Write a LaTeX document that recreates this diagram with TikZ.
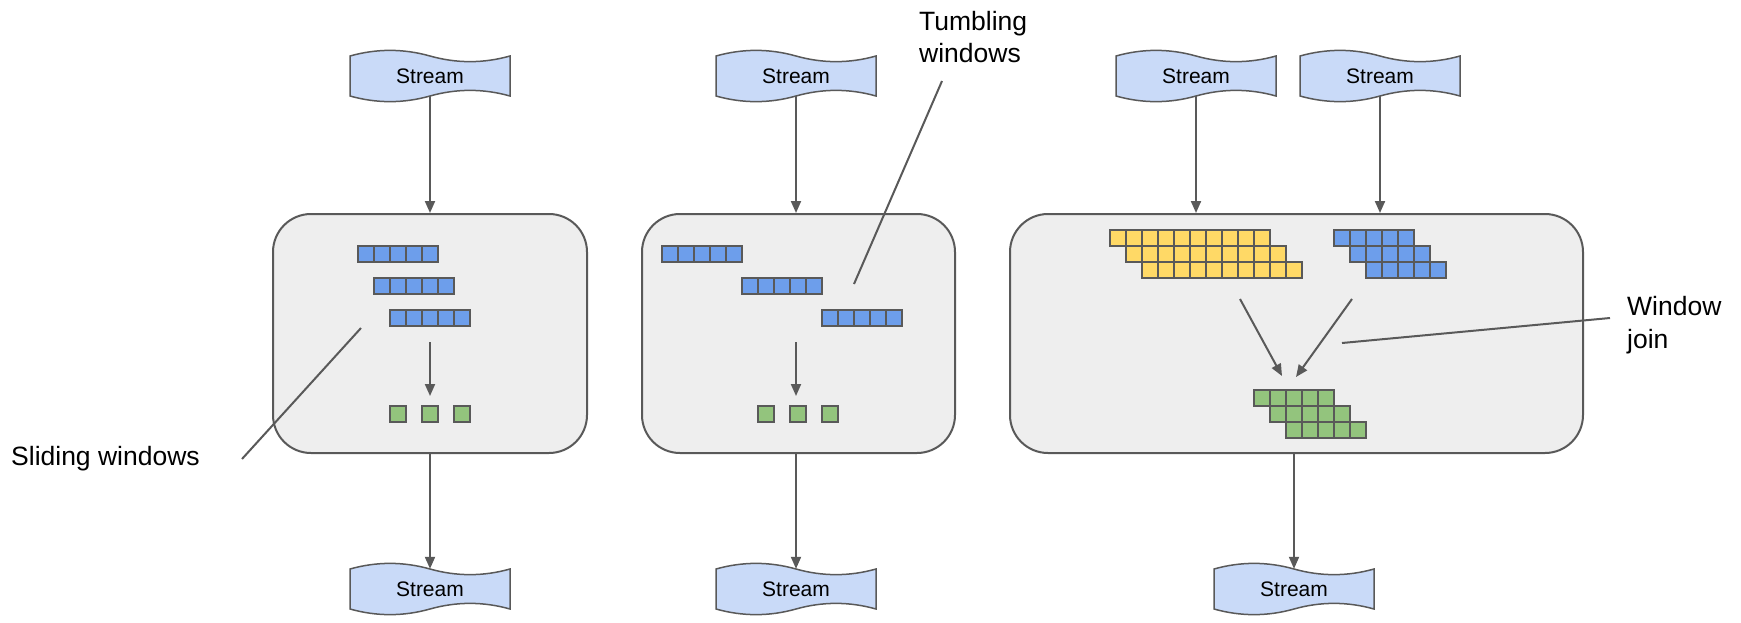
\documentclass[tikz,border=0pt]{standalone}
\usepackage{fontspec}
\setmainfont{Liberation Sans}
\usetikzlibrary{arrows.meta}
\definecolor{edgecol}{HTML}{595959}
\definecolor{boxfill}{HTML}{EEEEEE}
\definecolor{tapefill}{HTML}{C9DAF8}
\definecolor{cblue}{HTML}{6D9EEB}
\definecolor{cyellow}{HTML}{FFD966}
\definecolor{cgreen}{HTML}{93C47D}
\newcommand\tapeat[3]{%
  \begin{scope}[shift={(#2,#3)}]
    \filldraw[tape] (-80,-20) .. controls (-53.3,-27.5) and (-26.7,-27.5) .. (0,-20)
      .. controls (26.7,-12.5) and (53.3,-12.5) .. (80,-20) -- (80,20)
      .. controls (53.3,12.5) and (26.7,12.5) .. (0,20)
      .. controls (-26.7,27.5) and (-53.3,27.5) .. (-80,20) -- cycle;
  \end{scope}
  \node[tapetext] (#1) at (#2,#3) {Stream};}
\newcommand\cellrow[4]{%
  \foreach \k in {1,...,#3} {\filldraw[cellbox, fill=#4] ({#1+(\k-1)*16},#2) rectangle ++(16,16);}}
\begin{document}
\begin{tikzpicture}[x=1pt,y=-1pt,
  tape/.style={draw=edgecol, fill=tapefill, line width=1.5pt},
  tapetext/.style={minimum width=160pt, minimum height=40pt, inner sep=0pt, font=\fontsize{21}{25}\selectfont},
  opbox/.style={draw=edgecol, fill=boxfill, line width=2pt, rounded corners=38pt, inner sep=0pt},
  cellbox/.style={draw=edgecol, line width=2.1pt},
  arr/.style={draw=edgecol, line width=2pt, -{Triangle[length=12pt,width=10pt]}},
  leader/.style={draw=edgecol, line width=2pt},
  lbl/.style={font=\fontsize{26.5}{32.5}\selectfont, align=left, inner sep=0pt, anchor=west}]
\useasboundingbox (0,0) rectangle (1741,622);

% operator boxes
\node[opbox, minimum width=314pt, minimum height=239pt] (box1) at (430,333.5) {};
\node[opbox, minimum width=313pt, minimum height=239pt] (box2) at (798.5,333.5) {};
\node[opbox, minimum width=573pt, minimum height=239pt] (box3) at (1296.5,333.5) {};

% streams
\tapeat{s1}{430}{76}
\tapeat{s2}{796}{76}
\tapeat{s3a}{1196}{76}
\tapeat{s3b}{1380}{76}
\tapeat{o1}{430}{589}
\tapeat{o2}{796}{589}
\tapeat{o3}{1294}{589}

% stream arrows
\draw[arr] (s1.south) -- (s1.south |- box1.north);
\draw[arr] (s2.south) -- (s2.south |- box2.north);
\draw[arr] (s3a.south) -- (s3a.south |- box3.north);
\draw[arr] (s3b.south) -- (s3b.south |- box3.north);
\draw[arr] (o1.north |- box1.south) -- (o1.north);
\draw[arr] (o2.north |- box2.south) -- (o2.north);
\draw[arr] (o3.north |- box3.south) -- (o3.north);

% box 1: sliding windows
\cellrow{358}{246}{5}{cblue}
\cellrow{374}{278}{5}{cblue}
\cellrow{390}{310}{5}{cblue}
\filldraw[cellbox, fill=cgreen] (390,406) rectangle ++(16,16);
\filldraw[cellbox, fill=cgreen] (422,406) rectangle ++(16,16);
\filldraw[cellbox, fill=cgreen] (454,406) rectangle ++(16,16);
\coordinate (a1s) at (430,342);
\coordinate (a1e) at (430,396);
\draw[arr] (a1s) -- (a1e);

% box 2: tumbling windows
\cellrow{662}{246}{5}{cblue}
\cellrow{742}{278}{5}{cblue}
\cellrow{822}{310}{5}{cblue}
\filldraw[cellbox, fill=cgreen] (758,406) rectangle ++(16,16);
\filldraw[cellbox, fill=cgreen] (790,406) rectangle ++(16,16);
\filldraw[cellbox, fill=cgreen] (822,406) rectangle ++(16,16);
\coordinate (a2s) at (796,342);
\coordinate (a2e) at (796,396);
\draw[arr] (a2s) -- (a2e);

% box 3: window join
\cellrow{1110}{230}{10}{cyellow}
\cellrow{1126}{246}{10}{cyellow}
\cellrow{1142}{262}{10}{cyellow}
\cellrow{1334}{230}{5}{cblue}
\cellrow{1350}{246}{5}{cblue}
\cellrow{1366}{262}{5}{cblue}
\cellrow{1254}{390}{5}{cgreen}
\cellrow{1270}{406}{5}{cgreen}
\cellrow{1286}{422}{5}{cgreen}
\coordinate (j1s) at (1240,299);
\coordinate (j1e) at (1282,376);
\coordinate (j2s) at (1352,299);
\coordinate (j2e) at (1296,377);
\draw[arr] (j1s) -- (j1e);
\draw[arr] (j2s) -- (j2e);

% labels and leaders
\node[lbl] (lslide) at (11,459) {Sliding windows};
\coordinate (sl1) at (361,328);
\coordinate (sl2) at (242,459);
\draw[leader] (sl1) -- (sl2);

\node[lbl] (ltumb) at (919,37) {Tumbling\\windows};
\coordinate (tl1) at (854,284);
\coordinate (tl2) at (942,81);
\draw[leader] (tl1) -- (tl2);

\node[lbl] (ljoin) at (1627,325) {Window\\join};
\coordinate (jl1) at (1342,343);
\coordinate (jl2) at (1610,318);
\draw[leader] (jl1) -- (jl2);
\end{tikzpicture}
\end{document}
